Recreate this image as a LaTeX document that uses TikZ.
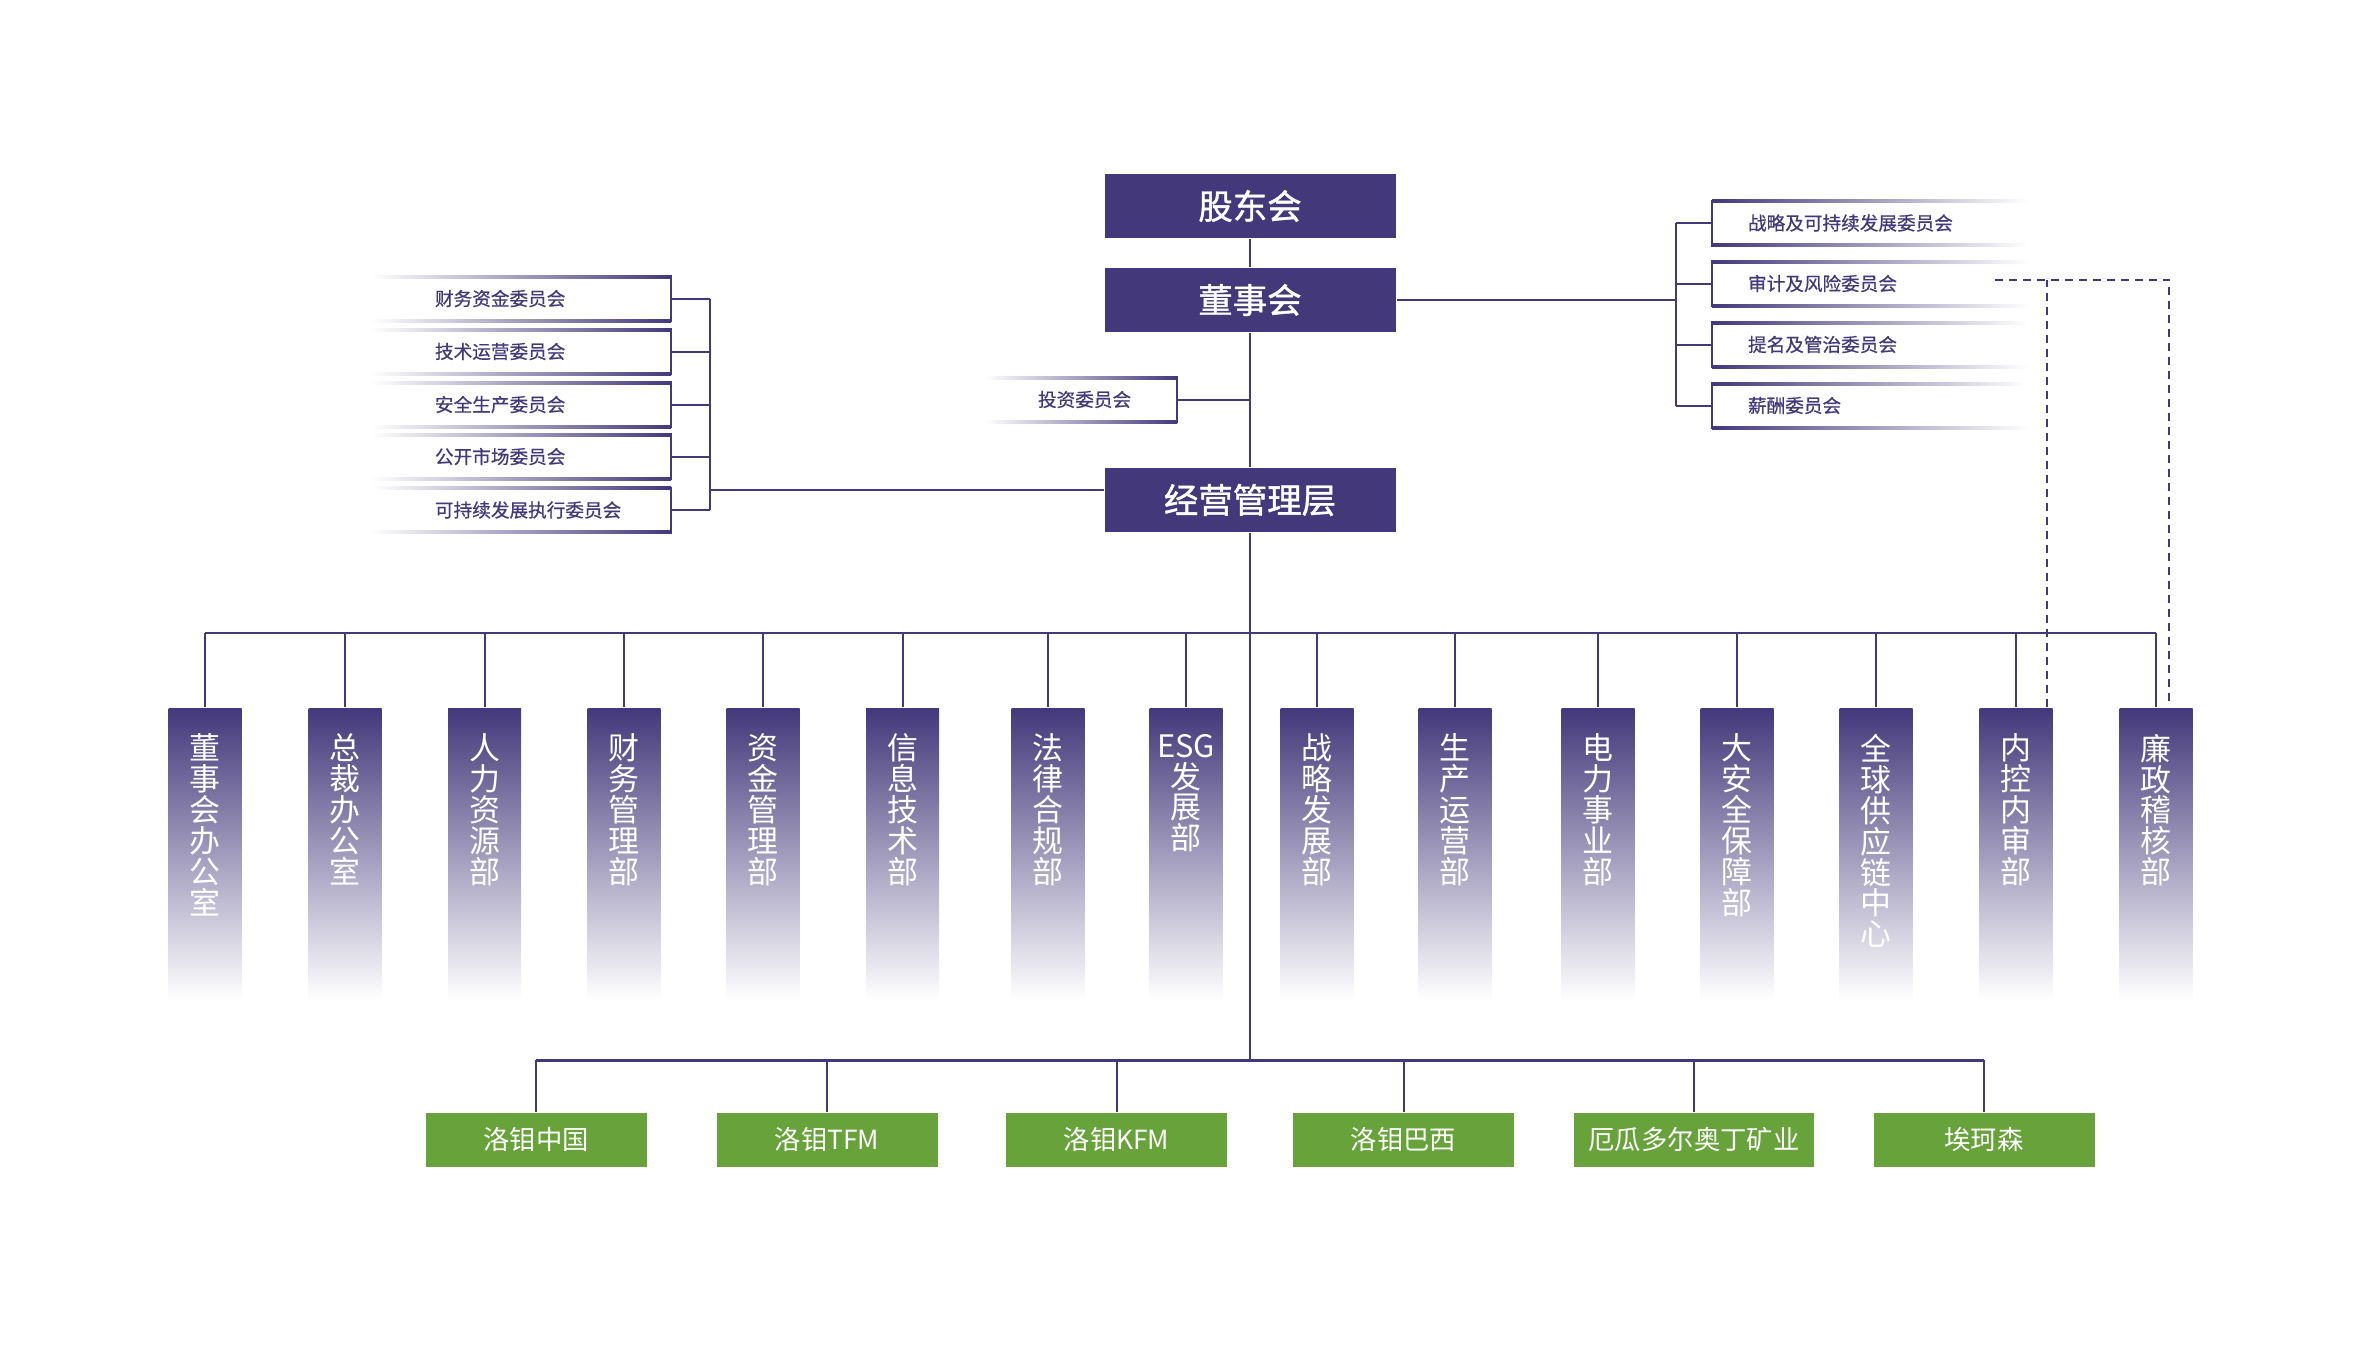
\documentclass[tikz,border=0pt]{standalone}
\usepackage{fontspec}
\setmainfont{Noto Sans CJK SC}
\usepackage{tikz}
\usetikzlibrary{positioning,calc}
\definecolor{lmpurple}{HTML}{43387A}
\definecolor{lmgreen}{HTML}{67A23A}
\newcommand{\vtxt}[1]{\parbox[t][24mm][t]{7.3mm}{\centering #1}}

\begin{document}
\begin{tikzpicture}[x=0.1mm,y=-0.1mm,line width=0.2mm,
  topbox/.style={fill=lmpurple,text=white,minimum width=29.1mm,minimum height=6.4mm,font=\fontsize{9.8}{11}\selectfont\addfontfeatures{FakeBold=1.2}},
  rcomm/.style={anchor=west,inner xsep=3.5mm,inner ysep=0pt,text width=24.4mm,align=left,minimum height=4.5mm,text=lmpurple,font=\fontsize{5.3}{6}\selectfont\addfontfeatures{FakeBold=0.6}},
  lcomm/.style={anchor=east,inner xsep=0pt,inner ysep=0pt,text width=23.5mm,align=left,minimum height=4.5mm,text=lmpurple,font=\fontsize{5.3}{6}\selectfont\addfontfeatures{FakeBold=0.6}},
  dept/.style={anchor=north,top color=lmpurple,bottom color=white,minimum width=7.3mm,inner xsep=0pt,inner ysep=2.6mm,text=white,font=\fontsize{8.8}{8.8}\selectfont},
  sub/.style={fill=lmgreen,text=white,minimum height=5.4mm,font=\fontsize{7.5}{9}\selectfont},
  conn/.style={draw=lmpurple},
  dashline/.style={draw=lmpurple,dash pattern=on 0.8mm off 0.6mm}]
\useasboundingbox (0,0) rectangle (2380,1344);

% main column
\node[topbox] (holder) at (1250,206) {股东会};
\node[topbox] (board) at (1250,300) {董事会};
\node[topbox] (mgmt) at (1250,500) {经营管理层};

% board committees
\node[rcomm] (rc1) at (1712,223) {战略及可持续发展委员会};
\node[rcomm] (rc2) at (1712,283.5) {审计及风险委员会};
\node[rcomm] (rc3) at (1712,344.5) {提名及管治委员会};
\node[rcomm] (rc4) at (1712,405.5) {薪酬委员会};
\foreach \n in {rc1,rc2,rc3,rc4}{
  \draw[conn] (\n.north west) -- (\n.south west);
  \shade[left color=lmpurple,middle color=lmpurple!75,right color=white] (\n.north west) rectangle ([yshift=-0.3mm]\n.north east);
  \shade[left color=lmpurple,middle color=lmpurple!75,right color=white] ([yshift=0.3mm]\n.south west) rectangle (\n.south east);
}

% management committees
\node[lcomm] (lc1) at (671,298.5) {财务资金委员会};
\node[lcomm] (lc2) at (671,351.5) {技术运营委员会};
\node[lcomm] (lc3) at (671,404.5) {安全生产委员会};
\node[lcomm] (lc4) at (671,456.5) {公开市场委员会};
\node[lcomm] (lc5) at (671,510) {可持续发展执行委员会};
\foreach \n in {lc1,lc2,lc3,lc4,lc5}{
  \draw[conn] (\n.north east) -- (\n.south east);
  \shade[left color=white,middle color=lmpurple!75,right color=lmpurple] ([xshift=-6.3mm]\n.north west) rectangle ([yshift=-0.3mm]\n.north east);
  \shade[left color=white,middle color=lmpurple!75,right color=lmpurple] ([xshift=-6.3mm,yshift=0.3mm]\n.south west) rectangle (\n.south east);
}

\node[lcomm,text width=13.8mm] (inv) at (1177,399.5) {投资委员会};
\draw[conn] (inv.north east) -- (inv.south east);
\shade[left color=white,middle color=lmpurple!75,right color=lmpurple] ([xshift=-5.2mm]inv.north west) rectangle ([yshift=-0.3mm]inv.north east);
\shade[left color=white,middle color=lmpurple!75,right color=lmpurple] ([xshift=-5.2mm,yshift=0.3mm]inv.south west) rectangle (inv.south east);

% departments
\foreach \x/\t [count=\i] in {205/{董\\事\\会\\办\\公\\室},345/{总\\裁\\办\\公\\室},484.5/{人\\力\\资\\源\\部},
    624/{财\\务\\管\\理\\部},763/{资\\金\\管\\理\\部},902.5/{信\\息\\技\\术\\部},1048/{法\\律\\合\\规\\部},
    1186/{ESG\\发\\展\\部},1317/{战\\略\\发\\展\\部},1455/{生\\产\\运\\营\\部},1598/{电\\力\\事\\业\\部},
    1737/{大\\安\\全\\保\\障\\部},1876/{全\\球\\供\\应\\链\\中\\心},2016/{内\\控\\内\\审\\部},2156/{廉\\政\\稽\\核\\部}}
  \node[dept] (d\i) at (\x,707) {\vtxt{\t}};

% subsidiaries
\foreach \x/\w/\t [count=\i] in {536/22.1/洛钼中国,827/22.1/洛钼TFM,1116.5/22.1/洛钼KFM,
    1403.5/22.1/洛钼巴西,1694/24/厄瓜多尔奥丁矿业,1984/22.1/埃珂森}
  \node[sub,minimum width=\w mm] (s\i) at (\x,1139.5) {\t};

% connectors
\coordinate (rbrk) at (1676,300);
\coordinate (lbrk) at (710,490);
\coordinate (dbus) at (1250,633);
\coordinate (sbus) at (1250,1060);
\draw[conn] (holder) -- (board);
\draw[conn] (board) -- (mgmt);
\draw[conn] (mgmt.south) -- (sbus);
\draw[conn] (board.east) -- (rbrk);
\draw[conn] (rc1.west -| rbrk) -- (rc4.west -| rbrk);
\foreach \n in {rc1,rc2,rc3,rc4}
  \draw[conn] (\n.west) -- (\n.west -| rbrk);
\draw[conn] (lbrk) -- (lbrk -| mgmt.west);
\draw[conn] (lc1.east -| lbrk) -- (lc5.east -| lbrk);
\foreach \n in {lc1,lc2,lc3,lc4,lc5}
  \draw[conn] (\n.east) -- (\n.east -| lbrk);
\draw[conn] (inv.east) -- (inv.east -| board.south);
\draw[conn] (d1.north |- dbus) -- (d15.north |- dbus);
\foreach \i in {1,...,15}
  \draw[conn] (d\i.north) -- (d\i.north |- dbus);
\draw[conn,line width=0.3mm] (s1.north |- sbus) -- (s6.north |- sbus);
\foreach \i in {1,...,6}
  \draw[conn] (s\i.north) -- (s\i.north |- sbus);

% audit lines
\coordinate (dash) at ([xshift=-3.3mm,yshift=0.4mm]rc2.east);
\draw[dashline] (dash) -| ([xshift=1.3mm]d15.north);
\draw[dashline] ([xshift=3.1mm]d14.north) -- ([xshift=3.1mm]d14.north |- dash);
\end{tikzpicture}
\end{document}
